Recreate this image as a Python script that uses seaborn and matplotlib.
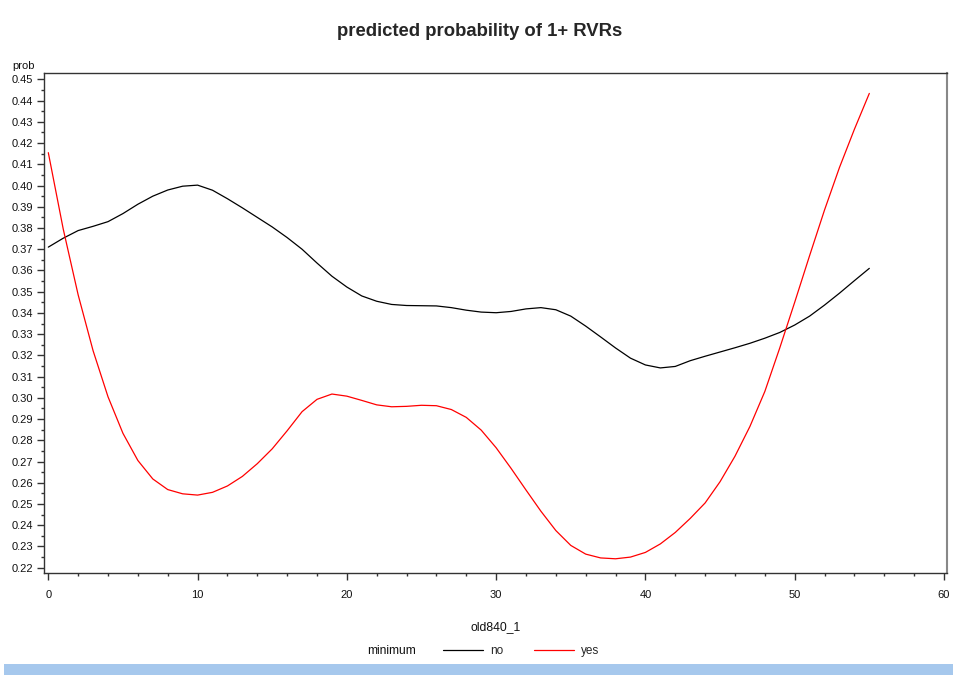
import numpy as np
import pandas as pd
import seaborn as sns
import matplotlib.pyplot as plt
from matplotlib.lines import Line2D
from matplotlib.patches import Rectangle
from matplotlib.ticker import MultipleLocator, FormatStrFormatter

# predictor values (old840_1)
old840 = list(range(0, 56))

# predicted probability, minimum = no
prob_no = [0.3710, 0.3752, 0.3788, 0.3808, 0.3830, 0.3868, 0.3912, 0.3950, 0.3979, 0.3997,
           0.4002, 0.3978, 0.3938, 0.3895, 0.3850, 0.3805, 0.3755, 0.3700, 0.3635, 0.3573,
           0.3522, 0.3480, 0.3455, 0.3440, 0.3435, 0.3434, 0.3433, 0.3425, 0.3413, 0.3404,
           0.3401, 0.3407, 0.3419, 0.3425, 0.3415, 0.3385, 0.3338, 0.3287, 0.3235, 0.3187,
           0.3155, 0.3141, 0.3148, 0.3175, 0.3196, 0.3216, 0.3236, 0.3257, 0.3281, 0.3308,
           0.3343, 0.3385, 0.3437, 0.3493, 0.3552, 0.3610]

# predicted probability, minimum = yes
prob_yes = [0.4155, 0.3795, 0.3485, 0.3222, 0.3005, 0.2833, 0.2705, 0.2618, 0.2568, 0.2548,
            0.2542, 0.2555, 0.2585, 0.2630, 0.2690, 0.2760, 0.2845, 0.2935, 0.2993, 0.3018,
            0.3008, 0.2988, 0.2967, 0.2958, 0.2960, 0.2965, 0.2963, 0.2945, 0.2908, 0.2848,
            0.2765, 0.2668, 0.2566, 0.2466, 0.2375, 0.2305, 0.2264, 0.2246, 0.2242, 0.2250,
            0.2272, 0.2312, 0.2366, 0.2432, 0.2505, 0.2605, 0.2725, 0.2865, 0.3030, 0.3235,
            0.3450, 0.3670, 0.3885, 0.4085, 0.4265, 0.4434]

groups = ["no", "yes"]
colors = {"no": "black", "yes": "red"}

df = pd.DataFrame({
    "old840_1": old840 * 2,
    "prob": prob_no + prob_yes,
    "minimum": ["no"] * len(old840) + ["yes"] * len(old840),
})

sns.set_style("white")
plt.rcParams["font.family"] = ["Liberation Sans", "DejaVu Sans"]

fig = plt.figure(figsize=(9.54, 6.75), dpi=100)
ax = fig.add_axes([0.0461, 0.1511, 0.9465, 0.7407])

sns.lineplot(data=df, x="old840_1", y="prob", hue="minimum", palette=colors,
             hue_order=groups, linewidth=0.9, legend=False, ax=ax)

ax.set_xlim(-0.29, 60.2)
ax.set_ylim(0.2175, 0.453)
ax.xaxis.set_major_locator(MultipleLocator(10))
ax.xaxis.set_minor_locator(MultipleLocator(2))
ax.yaxis.set_major_locator(MultipleLocator(0.01))
ax.yaxis.set_minor_locator(MultipleLocator(0.005))
ax.yaxis.set_major_formatter(FormatStrFormatter("%.2f"))

ax.tick_params(axis="both", which="major", direction="out", length=5, width=1,
               color="#333333", labelsize=8, labelcolor="#111111")
ax.tick_params(axis="both", which="minor", direction="out", length=2.5, width=1,
               color="#333333")
ax.tick_params(axis="y", which="major", pad=3)
ax.tick_params(axis="x", which="major", pad=7)
ax.tick_params(bottom=True, left=True, which="both")

for side in ["left", "bottom", "top"]:
    ax.spines[side].set_color("#333333")
    ax.spines[side].set_linewidth(1)
ax.spines["right"].set_color("#888888")
ax.spines["right"].set_linewidth(1.5)

ax.set_xlabel("old840_1", fontsize=8.7, color="#111111")
ax.xaxis.set_label_coords(0.5, -0.097)
ax.set_ylabel("prob", fontsize=8, rotation=0, ha="right", va="center", color="#111111")
ax.yaxis.set_label_coords(-0.0099, 1.014)

fig.text(0.503, 0.954, "predicted probability of 1+ RVRs", ha="center", va="center",
         fontsize=13.3, fontweight="bold")

# legend row beneath the axis label
fig.text(416 / 954, 1 - 651 / 675, "minimum", ha="right", va="center", fontsize=8.7,
         color="#111111")
handles = [Line2D([], [], color=colors[g], linewidth=0.9) for g in groups]
fig.legend(handles, groups, loc="center left", bbox_to_anchor=(443 / 954, 1 - 651 / 675),
           ncol=2, frameon=False, fontsize=8.5, handlelength=3.4, handletextpad=0.6,
           columnspacing=2.6, borderaxespad=0, borderpad=0)

fig.patches.append(Rectangle((4 / 954, 0), 1, 11 / 675, transform=fig.transFigure,
                             facecolor="#a6c8ed", edgecolor="none", zorder=0))

fig.savefig("out.png", dpi=100)
